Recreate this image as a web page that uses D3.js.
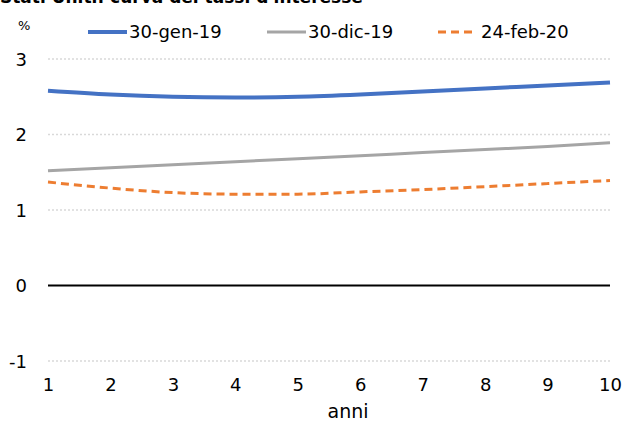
<!DOCTYPE html>
<html>
<head>
<meta charset="utf-8">
<script src="https://cdn.jsdelivr.net/npm/d3@7"></script>
<style>
  body { margin: 0; background: #fff; }
  svg text { font-family: "DejaVu Sans", Lato, sans-serif; fill: #000; }
</style>
</head>
<body>
<div class="chart"></div>
<script>
// scadenze in anni
const anni = [1, 2, 3, 4, 5, 6, 7, 8, 9, 10]
const yTicks = [-1, 0, 1, 2, 3]

const gen19 = [2.58, 2.53, 2.50, 2.49, 2.50, 2.53, 2.57, 2.61, 2.65, 2.69]
const dic19 = [1.52, 1.56, 1.60, 1.64, 1.68, 1.72, 1.76, 1.80, 1.84, 1.89]
const feb20 = [1.37, 1.29, 1.23, 1.21, 1.21, 1.24, 1.27, 1.31, 1.35, 1.39]

const serie = [
  {name: '30-gen-19', values: gen19, color: '#4472c4', width: 4, dash: null},
  {name: '30-dic-19', values: dic19, color: '#a5a5a5', width: 3, dash: null},
  {name: '24-feb-20', values: feb20, color: '#ed7d31', width: 3, dash: '8,5'}
]

const width = 623, height = 422
const margin = {top: 59, right: 13, bottom: 61, left: 48}

const svg = d3.select('.chart').append('svg')
  .attr('width', width)
  .attr('height', height)

const x = d3.scaleLinear().domain([1, 10]).range([margin.left, width - margin.right])
const y = d3.scaleLinear().domain([-1, 3]).range([height - margin.bottom, margin.top])

// titolo tagliato in alto (come nell'originale)
svg.append('text')
  .attr('x', 0).attr('y', 3)
  .style('font-size', '17px').style('font-weight', 'bold')
  .text("Stati Uniti: curva dei tassi d'interesse")

// griglia
svg.append('g')
  .selectAll('line')
  .data(yTicks.filter(d => d !== 0))
  .join('line')
  .attr('x1', x(1)).attr('x2', x(10))
  .attr('y1', d => y(d)).attr('y2', d => y(d))
  .attr('stroke', '#d9d9d9')
  .attr('stroke-width', 1.5)
  .attr('stroke-dasharray', '2,2')

svg.append('line')
  .attr('x1', x(1)).attr('x2', x(10))
  .attr('y1', y(0)).attr('y2', y(0))
  .attr('stroke', '#000').attr('stroke-width', 2)

// asse y
const yAxis = svg.append('g')
  .attr('transform', `translate(${margin.left - 21},0)`)
  .call(d3.axisLeft(y).tickValues(yTicks).tickFormat(d => String(d)).tickSize(0).tickPadding(0))
yAxis.select('.domain').remove()
yAxis.selectAll('text').style('font-size', '18px').attr('dy', '0.35em')

// asse x
const xAxis = svg.append('g')
  .attr('transform', `translate(0,${y(-1) + 14})`)
  .call(d3.axisBottom(x).tickValues(anni).tickSize(0).tickPadding(0))
xAxis.select('.domain').remove()
xAxis.selectAll('text').style('font-size', '18px').attr('dy', '0.9em')

svg.append('text')
  .attr('x', 348).attr('y', 418)
  .attr('text-anchor', 'middle')
  .style('font-size', '19px')
  .text('anni')

svg.append('text')
  .attr('x', 18).attr('y', 30)
  .style('font-size', '13px')
  .text('%')

// linee
const line = d3.line()
  .x((d, i) => x(anni[i]))
  .y(d => y(d))
  .curve(d3.curveMonotoneX)

svg.append('g')
  .selectAll('path')
  .data(serie)
  .join('path')
  .attr('d', d => line(d.values))
  .attr('fill', 'none')
  .attr('stroke', d => d.color)
  .attr('stroke-width', d => d.width)
  .attr('stroke-dasharray', d => d.dash)

// legenda
const legX = [88, 267, 438]
const leg = svg.append('g')
  .selectAll('g')
  .data(serie)
  .join('g')
  .attr('transform', (d, i) => `translate(${legX[i]},32)`)

leg.append('line')
  .attr('x1', 0).attr('x2', d => d.dash ? 36 : 39)
  .attr('stroke', d => d.color)
  .attr('stroke-width', d => d.width)
  .attr('stroke-dasharray', d => d.dash ? '8,5' : null)

leg.append('text')
  .attr('x', d => d.dash ? 43 : 41)
  .attr('dy', '0.35em')
  .style('font-size', '18px')
  .text(d => d.name)
</script>
</body>
</html>
